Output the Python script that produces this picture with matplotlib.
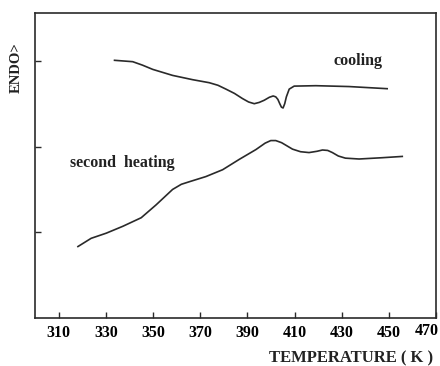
import matplotlib
matplotlib.use("Agg")
import matplotlib.pyplot as plt
import matplotlib.transforms as mtransforms

cool_T = [333.7, 341.4, 345.5, 349.9, 358.3, 366.8, 373.8, 377.5, 380.9, 384.5, 387.9, 390.5, 392.9, 395.0, 397.1,
          399.3, 400.9, 402.0, 402.9, 403.7, 404.4, 405.1, 405.8, 406.5, 407.7, 409.8, 419.0, 433.0, 449.2]
cool_v = [3.006, 2.99, 2.95, 2.90, 2.83, 2.78, 2.745, 2.715, 2.67, 2.62, 2.56, 2.52, 2.50, 2.515, 2.54,
          2.575, 2.59, 2.58, 2.55, 2.50, 2.46, 2.45, 2.50, 2.58, 2.67, 2.705, 2.71, 2.70, 2.675]

heat_T = [318.2, 323.8, 330.2, 337.2, 345.0, 351.3, 358.3, 362.0, 365.4, 372.4, 379.5,
          386.5, 393.6, 397.5, 399.9, 402.0, 404.5, 409.1, 412.5, 416.1, 419.5, 421.8, 424.0, 426.0, 428.5, 431.5, 437.3,
          447.1, 455.6]
heat_v = [0.834, 0.93, 0.99, 1.07, 1.17, 1.32, 1.50, 1.56, 1.59, 1.65, 1.73,
          1.85, 1.965, 2.04, 2.07, 2.07, 2.045, 1.97, 1.94, 1.93, 1.945, 1.96, 1.955, 1.93, 1.89, 1.865, 1.855,
          1.87, 1.885]

xticks = [310, 330, 350, 370, 390, 410, 430, 450, 470]
yticks = [1, 2, 3]

serif = ["Liberation Serif", "DejaVu Serif"]
fig = plt.figure(figsize=(4.4, 3.66), dpi=100)
ax = fig.add_axes([0.0795, 0.131, 0.912, 0.834])
col = "#2a2a2a"
ax.plot(cool_T, cool_v, color=col, lw=1.2, solid_joinstyle="round")
ax.plot(heat_T, heat_v, color=col, lw=1.2, solid_joinstyle="round")
ax.set_xlim(300, 470)
ax.set_ylim(0, 3.56)
ax.set_xticks(xticks)
ax.set_xticklabels([str(t) for t in xticks], family=serif, fontweight="bold", fontsize=11.5)
ax.set_yticks(yticks)
ax.set_yticklabels([])
ax.tick_params(direction="in", length=4, width=1, color=col, pad=5)
for s in ax.spines.values():
    s.set_color(col)
    s.set_linewidth(1.2)
last = ax.get_xticklabels()[-1]
last.set_transform(last.get_transform() + mtransforms.ScaledTranslation(-10/100, 2/100, fig.dpi_scale_trans))
ax.text(436.8, 3.0, "cooling", family=serif, fontweight="bold", fontsize=11.5,
        ha="center", va="center", color="#222")
ax.text(337, 1.81, "second  heating", family=serif, fontweight="bold", fontsize=11.5,
        ha="center", va="center", color="#222")
fig.text(0.038, 0.815, "ENDO>", rotation=90, family=serif, fontweight="bold",
         fontsize=10.5, ha="center", va="center", color="#222")
fig.text(0.985, 0.022, "TEMPERATURE ( K )", family=serif, fontweight="bold",
         fontsize=12, ha="right", va="center", color="#222")
fig.savefig("out.png", dpi=100)
